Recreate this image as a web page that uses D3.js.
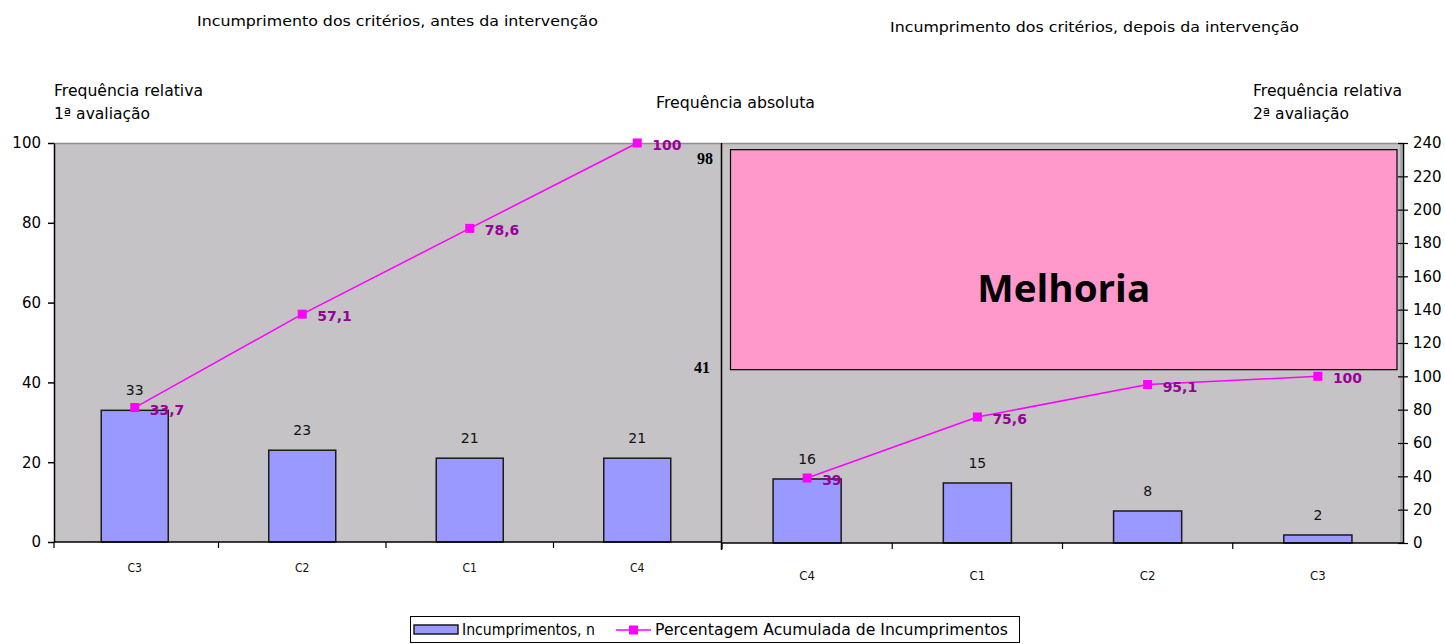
<!DOCTYPE html>
<html>
<head>
<meta charset="utf-8">
<script src="https://cdn.jsdelivr.net/npm/d3@7"></script>
<style>
  html, body { margin: 0; padding: 0; background: #ffffff; }
  svg { display: block; }
  text { font-family: "DejaVu Sans", "Liberation Sans", sans-serif; }
</style>
</head>
<body>
<svg id="chart" width="1445" height="644"></svg>
<script>
// Pareto of criteria non-compliance, before and after the intervention
const beforeCategories = ["C3", "C2", "C1", "C4"];
const beforeCounts = [33, 23, 21, 21];
const beforeCumulative = [33.7, 57.1, 78.6, 100];
const beforeCumulativeLabels = ["33,7", "57,1", "78,6", "100"];

const afterCategories = ["C4", "C1", "C2", "C3"];
const afterCounts = [16, 15, 8, 2];
const afterCumulative = [39, 75.6, 95.1, 100];
const afterCumulativeLabels = ["39", "75,6", "95,1", "100"];

const leftTicks = [0, 20, 40, 60, 80, 100];
const rightTicks = [0, 20, 40, 60, 80, 100, 120, 140, 160, 180, 200, 220, 240];
const absoluteTotals = ["98", "41"];

const titles = ["Incumprimento dos critérios, antes da intervenção",
                "Incumprimento dos critérios, depois da intervenção"];
const legendLabels = ["Incumprimentos, n", "Percentagem Acumulada de Incumprimentos"];
const improvementLabel = "Melhoria";

const BAR_FILL = "#9999ff";
const LINE = "#ff00ff";
const LABEL_PURPLE = "#990099";
const PLOT_BG = "#c5c3c6";

const svg = d3.select("#chart");

// Panel frames
const L = { x0: 54, x1: 721, y0: 143, y1: 542 };
const R = { x0: 722, x1: 1403, y0: 143, y1: 543 };

const xL = d3.scaleBand().domain(beforeCategories).range([51, L.x1]);
const yL = d3.scaleLinear().domain([0, 100]).range([L.y1, L.y0]);

const xR = d3.scaleBand().domain(afterCategories).range([R.x0, R.x1]);
const yRbar = d3.scaleLinear().domain([0, 100]).range([R.y1, R.y0]);
const yRline = d3.scaleLinear().domain([0, 240]).range([R.y1, R.y0]);

// Plot backgrounds
svg.append("rect").attr("x", L.x0).attr("y", L.y0).attr("width", L.x1 - L.x0).attr("height", L.y1 - L.y0)
  .attr("fill", PLOT_BG);
svg.append("rect").attr("x", R.x0).attr("y", R.y0).attr("width", R.x1 - R.x0).attr("height", R.y1 - R.y0)
  .attr("fill", PLOT_BG);
// top borders of the plot areas
svg.append("line").attr("x1", L.x0).attr("x2", R.x1).attr("y1", L.y0 + 0.5).attr("y2", L.y0 + 0.5)
  .attr("stroke", "#8e8c8f").attr("stroke-width", 1.5);
svg.append("line").attr("x1", R.x1 - 2).attr("x2", R.x1 - 2).attr("y1", R.y0).attr("y2", R.y1)
  .attr("stroke", "#8e8c8f").attr("stroke-width", 1);

// Improvement box in the second panel
const box = { top: 236, bottom: 104 };
const boxG = svg.append("g");
boxG.append("rect")
  .attr("x", R.x0 + 8.5).attr("y", yRline(box.top))
  .attr("width", (R.x1 - 6) - (R.x0 + 8.5)).attr("height", yRline(box.bottom) - yRline(box.top))
  .attr("fill", "#ff99cc").attr("stroke", "#000").attr("stroke-width", 1.2);
boxG.append("text")
  .attr("x", (R.x0 + 8.5 + R.x1 - 6) / 2).attr("y", 302)
  .attr("text-anchor", "middle")
  .attr("font-weight", "bold").attr("font-size", 37)
  .attr("textLength", 173).attr("lengthAdjust", "spacingAndGlyphs")
  .style("font-family", "'Open Sans', 'Noto Sans', sans-serif")
  .text(improvementLabel);

// Bars
function drawBars(cats, vals, x, y, baseY) {
  const bw = x.bandwidth() * 0.4;
  svg.append("g").selectAll("rect").data(vals).join("rect")
    .attr("x", (d, i) => x(cats[i]) + (x.bandwidth() - bw) / 2)
    .attr("y", d => y(d))
    .attr("width", bw)
    .attr("height", d => baseY - y(d))
    .attr("fill", BAR_FILL).attr("stroke", "#1a1a1a").attr("stroke-width", 1.5);
  svg.append("g").selectAll("text").data(vals).join("text")
    .attr("x", (d, i) => x(cats[i]) + x.bandwidth() / 2)
    .attr("y", d => y(d) - 15)
    .attr("text-anchor", "middle")
    .attr("font-size", 14).attr("fill", "#111")
    .text(d => d);
}
drawBars(beforeCategories, beforeCounts, xL, yL, L.y1);
drawBars(afterCategories, afterCounts, xR, yRbar, R.y1);

// Cumulative lines
function drawLine(cats, vals, labels, x, y) {
  const cx = (d, i) => x(cats[i]) + x.bandwidth() / 2;
  const line = d3.line().x((d, i) => cx(d, i)).y(d => y(d));
  svg.append("path").datum(vals).attr("d", line)
    .attr("fill", "none").attr("stroke", LINE).attr("stroke-width", 1.5);
  svg.append("g").selectAll("rect").data(vals).join("rect")
    .attr("x", (d, i) => cx(d, i) - 4.5).attr("y", d => y(d) - 4.5)
    .attr("width", 9).attr("height", 9).attr("fill", LINE);
  svg.append("g").selectAll("text").data(vals).join("text")
    .attr("x", (d, i) => cx(d, i) + 15)
    .attr("y", d => y(d) + 7)
    .attr("font-size", 14).attr("font-weight", "bold").attr("fill", LABEL_PURPLE)
    .text((d, i) => labels[i]);
}
drawLine(beforeCategories, beforeCumulative, beforeCumulativeLabels, xL, yL);
drawLine(afterCategories, afterCumulative, afterCumulativeLabels, xR, yRline);

// Left axis (relative frequency, 1st assessment)
const axL = svg.append("g").attr("transform", `translate(${L.x0},0)`)
  .call(d3.axisLeft(yL).tickValues(leftTicks).tickSize(6).tickSizeOuter(0).tickPadding(7));
axL.select(".domain").attr("stroke", "#000").attr("stroke-width", 1.5);
axL.selectAll(".tick line").attr("stroke", "#000").attr("stroke-width", 1.5);
axL.selectAll(".tick text").attr("font-size", 15).attr("fill", "#000")
  .style("font-family", "'DejaVu Sans', sans-serif");

// Right axis (relative frequency, 2nd assessment)
const axR = svg.append("g").attr("transform", `translate(${R.x1},0)`)
  .call(d3.axisRight(yRline).tickValues(rightTicks).tickSize(5).tickSizeOuter(0).tickPadding(5));
axR.select(".domain").attr("stroke", "#000").attr("stroke-width", 1.5);
axR.selectAll(".tick line").attr("x1", -5).attr("stroke", "#000").attr("stroke-width", 1.2);
axR.selectAll(".tick text").attr("font-size", 15).attr("fill", "#000")
  .style("font-family", "'DejaVu Sans', sans-serif");

// Category axes
function categoryAxis(x, y, x0, cats, fontSize, labelY) {
  const g = svg.append("g").attr("transform", `translate(0,${y})`);
  g.append("line").attr("x1", x0).attr("x2", x.range()[1]).attr("y1", 0).attr("y2", 0)
    .attr("stroke", "#000").attr("stroke-width", 1.5);
  // tick marks on category boundaries
  const bounds = [x0].concat(cats.slice(1).map(c => x(c)));
  g.append("g").selectAll("line").data(bounds).join("line")
    .attr("x1", d => d).attr("x2", d => d).attr("y1", 0).attr("y2", 6)
    .attr("stroke", "#000").attr("stroke-width", 1.2);
  g.append("g").selectAll("text").data(cats).join("text")
    .attr("x", c => x(c) + x.bandwidth() / 2).attr("y", labelY)
    .attr("text-anchor", "middle").attr("font-size", fontSize).attr("fill", "#111")
    .style("font-family", "'DejaVu Sans Condensed', 'DejaVu Sans', sans-serif")
    .style("font-stretch", "condensed")
    .text(c => c);
}
categoryAxis(xL, L.y1, L.x0, beforeCategories, 12, 30);
categoryAxis(xR, R.y1, R.x0, afterCategories, 13, 37);

// Divider between the two panels
svg.append("line").attr("x1", L.x1 + 0.5).attr("x2", L.x1 + 0.5).attr("y1", L.y0).attr("y2", 550)
  .attr("stroke", "#000").attr("stroke-width", 1.5);

// Totals on the absolute-frequency axis
svg.append("text").attr("x", 713).attr("y", 164).attr("text-anchor", "end")
  .attr("font-size", 16).attr("font-weight", "bold")
  .style("font-family", "'Liberation Serif', serif").text(absoluteTotals[0]);
svg.append("text").attr("x", 710).attr("y", 373).attr("text-anchor", "end")
  .attr("font-size", 16).attr("font-weight", "bold")
  .style("font-family", "'Liberation Serif', serif").text(absoluteTotals[1]);

// Titles
svg.append("text").attr("x", 197).attr("y", 26).attr("font-size", 14)
  .attr("textLength", 401).attr("lengthAdjust", "spacingAndGlyphs").text(titles[0]);
svg.append("text").attr("x", 890).attr("y", 32).attr("font-size", 14)
  .attr("textLength", 409).attr("lengthAdjust", "spacingAndGlyphs").text(titles[1]);

// Axis captions
function caption(x, y, txt, len) {
  svg.append("text").attr("x", x).attr("y", y).attr("font-size", 15)
    .attr("textLength", len).attr("lengthAdjust", "spacingAndGlyphs").text(txt);
}
caption(54, 96, "Frequência relativa", 149);
caption(54, 119, "1ª avaliação", 96);
caption(656, 108, "Frequência absoluta", 159);
caption(1253, 96, "Frequência relativa", 149);
caption(1253, 119, "2ª avaliação", 96);

// Legend
const lg = svg.append("g");
lg.append("rect").attr("x", 410.5).attr("y", 616.5).attr("width", 609).attr("height", 26)
  .attr("fill", "#fff").attr("stroke", "#000").attr("stroke-width", 1);
lg.append("rect").attr("x", 414).attr("y", 625).attr("width", 44).attr("height", 9)
  .attr("fill", BAR_FILL).attr("stroke", "#1a1a1a").attr("stroke-width", 1.5);
lg.append("text").attr("x", 462).attr("y", 635).attr("font-size", 15)
  .attr("textLength", 133).attr("lengthAdjust", "spacingAndGlyphs").text(legendLabels[0]);
lg.append("line").attr("x1", 616).attr("x2", 651).attr("y1", 630).attr("y2", 630)
  .attr("stroke", LINE).attr("stroke-width", 1.5);
lg.append("rect").attr("x", 629).attr("y", 625.5).attr("width", 9).attr("height", 9).attr("fill", LINE);
lg.append("text").attr("x", 655).attr("y", 635).attr("font-size", 15)
  .attr("textLength", 353).attr("lengthAdjust", "spacingAndGlyphs").text(legendLabels[1]);
</script>
</body>
</html>
